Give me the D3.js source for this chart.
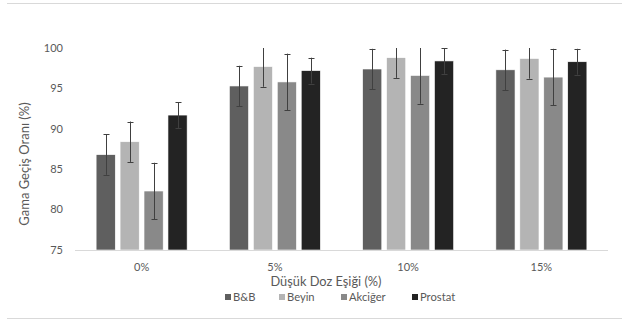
<!DOCTYPE html>
<html>
<head>
<meta charset="utf-8">
<script src="https://cdn.jsdelivr.net/npm/d3@7/dist/d3.min.js"></script>
<style>
  html, body { margin: 0; padding: 0; background: #fff; }
  svg text { font-family: Lato, "Open Sans", sans-serif; fill: #595959; }
</style>
</head>
<body>
<svg id="chart" width="623" height="320"></svg>
<script>
// Gamma pass rates per low-dose threshold, with standard deviation
const categories = ["0%", "5%", "10%", "15%"];
const seriesNames = ["B&B", "Beyin", "Akciğer", "Prostat"];
const seriesColors = ["#5f5f5f", "#b4b4b4", "#898989", "#232323"];
const bbValues      = [86.8, 95.3, 97.4, 97.3];
const beyinValues   = [88.4, 97.7, 98.8, 98.7];
const akcigerValues = [82.3, 95.8, 96.6, 96.4];
const prostatValues = [91.7, 97.2, 98.4, 98.3];
const bbErrors      = [2.5, 2.5, 2.5, 2.5];
const beyinErrors   = [2.5, 2.5, 2.5, 2.5];
const akcigerErrors = [3.5, 3.5, 3.5, 3.5];
const prostatErrors = [1.6, 1.6, 1.6, 1.6];
const yTicks = [75, 80, 85, 90, 95, 100];

const values = [bbValues, beyinValues, akcigerValues, prostatValues];
const errors = [bbErrors, beyinErrors, akcigerErrors, prostatErrors];

const svg = d3.select("#chart");
const plot = { left: 75, right: 608, top: 48, bottom: 250 };

// Chart frame lines
svg.append("line").attr("x1", 7).attr("x2", 622).attr("y1", 3.5).attr("y2", 3.5)
  .attr("stroke", "#d9d9d9").attr("stroke-width", 1);
svg.append("line").attr("x1", 7).attr("x2", 622).attr("y1", 318.5).attr("y2", 318.5)
  .attr("stroke", "#d9d9d9").attr("stroke-width", 1);

const x0 = d3.scaleBand().domain(categories).range([plot.left, plot.right]).paddingInner(0.317).paddingOuter(0.1585);
const x1 = d3.scaleBand().domain(seriesNames).range([0, x0.bandwidth()]).paddingInner(0.2);
const y = d3.scaleLinear().domain([75, 100]).range([plot.bottom, plot.top]);

svg.append("defs").append("clipPath").attr("id", "plotClip")
  .append("rect").attr("x", plot.left).attr("y", plot.top)
  .attr("width", plot.right - plot.left).attr("height", plot.bottom - plot.top);

// Y tick labels
svg.append("g").selectAll("text").data(yTicks).join("text")
  .attr("x", 63).attr("y", d => y(d)).attr("dy", "0.35em")
  .attr("text-anchor", "end").attr("font-size", 11).text(d => d);

// Bars
const rows = [];
categories.forEach((c, ci) => {
  seriesNames.forEach((s, si) => {
    rows.push({ c, s, si, v: values[si][ci], e: errors[si][ci] });
  });
});

const g = svg.append("g");
g.selectAll("rect").data(rows).join("rect")
  .attr("x", d => x0(d.c) + x1(d.s))
  .attr("y", d => y(d.v))
  .attr("width", x1.bandwidth())
  .attr("height", d => y(75) - y(d.v))
  .attr("fill", d => seriesColors[d.si])
  .attr("stroke", "#ffffff").attr("stroke-width", 0.6);

// Baseline
svg.append("line").attr("x1", plot.left).attr("x2", plot.right)
  .attr("y1", plot.bottom + 0.5).attr("y2", plot.bottom + 0.5)
  .attr("stroke", "#d9d9d9").attr("stroke-width", 1);

// Error bars
const eg = svg.append("g").attr("clip-path", "url(#plotClip)")
  .attr("stroke", "#404040").attr("stroke-width", 1);
const ebar = eg.selectAll("g").data(rows).join("g")
  .attr("transform", d => `translate(${Math.round(x0(d.c) + x1(d.s) + x1.bandwidth() / 2) + 0.5},0)`);
ebar.append("line").attr("y1", d => y(d.v + d.e)).attr("y2", d => y(d.v - d.e));
ebar.append("line").attr("x1", -3).attr("x2", 3)
  .attr("y1", d => Math.round(y(d.v + d.e)) + 0.5).attr("y2", d => Math.round(y(d.v + d.e)) + 0.5);
ebar.append("line").attr("x1", -3).attr("x2", 3)
  .attr("y1", d => Math.round(y(d.v - d.e)) + 0.5).attr("y2", d => Math.round(y(d.v - d.e)) + 0.5);

// X category labels
svg.append("g").selectAll("text").data(categories).join("text")
  .attr("x", d => x0(d) + x0.bandwidth() / 2).attr("y", 271)
  .attr("text-anchor", "middle").attr("font-size", 11).text(d => d);

// Axis titles
svg.append("text").attr("x", 326).attr("y", 285.5)
  .attr("text-anchor", "middle").attr("font-size", 12.8).text("Düşük Doz Eşiği (%)");
svg.append("text").attr("transform", "translate(28.5,164) rotate(-90)")
  .attr("text-anchor", "middle").attr("font-size", 13).text("Gama Geçiş Oranı (%)");

// Legend
const legendX = [225, 279, 341, 412];
const lg = svg.append("g").selectAll("g").data(seriesNames).join("g")
  .attr("transform", (d, i) => `translate(${legendX[i]},294)`);
lg.append("rect").attr("width", 6).attr("height", 6).attr("fill", (d, i) => seriesColors[i]);
lg.append("text").attr("x", 8).attr("y", 3).attr("dy", "0.35em")
  .attr("font-size", 11.2).text(d => d);
</script>
</body>
</html>
